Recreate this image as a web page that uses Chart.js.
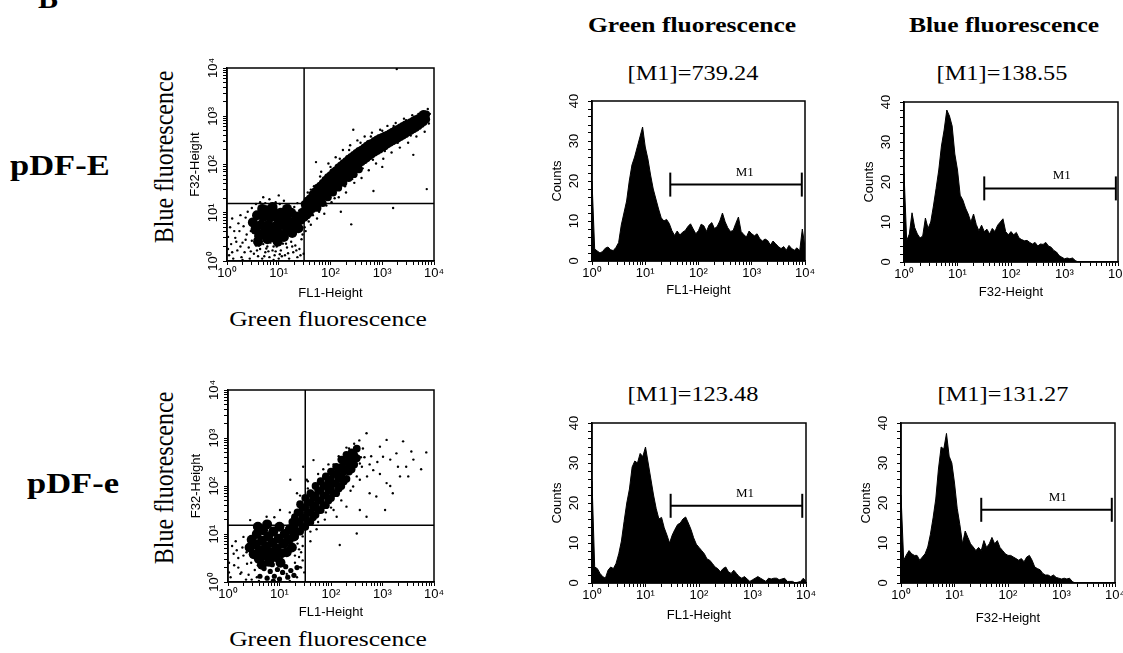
<!DOCTYPE html>
<html>
<head>
<meta charset="utf-8">
<script src="https://cdn.jsdelivr.net/npm/chart.js"></script>
<style>
  body { margin: 0; width: 1123px; height: 653px; overflow: hidden; background: #fff; position: relative; }
  canvas { position: absolute; }
  .lbl { position: absolute; white-space: nowrap; color: #000; line-height: 1; font-family: "Liberation Serif", "Times New Roman", serif; }
  .bold { font-weight: bold; }
  .sx { transform: scaleX(1.15); transform-origin: 0 0; }
  .c { transform: translateX(-50%) scaleX(1.16); }
  .rot { transform: translate(-50%, -50%) rotate(-90deg) scaleY(1.15); }
</style>
</head>
<body>

<div class="lbl bold" style="left:38px;top:-17px;font-size:30px">B</div>
<div class="lbl bold sx" style="left:10px;top:150px;font-size:30px">pDF-E</div>
<div class="lbl bold sx" style="left:27px;top:468px;font-size:30px">pDF-e</div>

<div class="lbl bold c" style="left:692px;top:14px;font-size:22px">Green fluorescence</div>
<div class="lbl bold c" style="left:1004px;top:14px;font-size:22px">Blue fluorescence</div>

<div class="lbl c" style="left:693px;top:63px;font-size:21px">[M1]=739.24</div>
<div class="lbl c" style="left:1002px;top:63px;font-size:21px">[M1]=138.55</div>
<div class="lbl c" style="left:693px;top:384px;font-size:21px">[M1]=123.48</div>
<div class="lbl c" style="left:1003px;top:384px;font-size:21px">[M1]=131.27</div>

<div class="lbl rot" style="left:164px;top:157px;font-size:24px">Blue fluorescence</div>
<div class="lbl rot" style="left:164px;top:478px;font-size:24px">Blue fluorescence</div>
<div class="lbl c" style="left:328px;top:308px;font-size:22px">Green fluorescence</div>
<div class="lbl c" style="left:328px;top:628px;font-size:22px">Green fluorescence</div>

<script>
// ---- data (log10 units on the decade axes) ----
const BIN_STEP = 0.05;   // histogram channel spacing, in decades (0 .. 4)

// counts per channel
const histGreenE = [20, 3, 2.5, 2, 2.4, 3.2, 3.5, 2.8, 2.6, 3.4, 4.6, 9, 12, 15, 20, 24, 26, 28.5, 31, 33.5,
  28.5, 25.5, 21.5, 18, 15.5, 13, 10.8, 10, 10.4, 9.4, 7.6, 6.4, 7.5, 6.5, 7.2, 7.6, 8.6, 9.3, 8, 6.8,
  7.6, 9.2, 8.8, 7.4, 9, 9.6, 8.1, 8.6, 10, 12, 9.8, 8.3, 7.4, 7.6, 9.4, 11, 7.4, 6.6, 6, 7.5,
  6.8, 6.3, 6.8, 5.6, 5, 5.5, 5.1, 4, 5, 4.3, 3.6, 3.1, 3.6, 2.7, 3.9, 3.1, 2.7, 3.3, 2.5, 8, 3.4];
const histBlueE = [22.4, 5.3, 7, 12.3, 8.6, 7, 6, 6.5, 11, 8.4, 10, 14, 18.4, 23, 29, 33, 38, 36.5, 34, 27,
  23, 16.7, 15.5, 13.5, 12, 10, 12, 9.4, 7.8, 9.2, 7.6, 8.2, 7, 8.4, 7.6, 9.2, 10, 10.8, 7.6, 6.8,
  7.6, 6.8, 7.4, 6, 5.6, 5.3, 5.4, 4.9, 4.5, 4.9, 4, 4.5, 4.4, 4.9, 4, 3.7, 2.9, 2.5, 1.6, 1.2,
  0.8, 1, 0.8, 1, 0.4, 0, 0, 0, 0, 0, 0, 0, 0, 0, 0, 0, 0, 0, 0, 0, 0];
const histGreenLow = [25.5, 4, 3.6, 2.4, 1.6, 1.2, 3.2, 4, 3.6, 4.9, 7.3, 10.5, 15.4, 20, 23.5, 29, 30.5, 30, 32.4, 31.6,
  34, 30, 26, 22, 18.6, 16, 16.4, 13.8, 12, 10, 12, 13.4, 14.6, 15, 16, 16.5, 15, 13.4, 11.3, 9.7,
  8.9, 8.1, 7.3, 6, 5.7, 4.9, 4, 3.6, 2.8, 3.6, 4, 2.8, 2.4, 3.2, 2.4, 1.6, 1.2, 1.6, 1, 0.4,
  0.8, 1.2, 1.6, 1.2, 0.8, 0.4, 1.2, 1, 1.2, 1.2, 0.8, 1, 1.2, 0.4, 0.4, 0.4, 0, 0.2, 0.4, 1.2, 0.4];
const histBlueLow = [22, 5.7, 7, 8.1, 7.3, 6.9, 6.9, 5.7, 6.5, 7.3, 9, 12.2, 16.3, 21, 28.5, 34, 33.5, 37.4, 31.7, 30,
  25, 18.7, 14.6, 9.8, 13, 11.4, 9.8, 9, 8.1, 8.9, 8.1, 10.6, 8.9, 9.8, 11.4, 9.8, 10.6, 8.9, 8.1, 7.3,
  6.9, 6.9, 6.5, 6.1, 5.7, 6.1, 5.3, 6.5, 6.9, 5.7, 4, 3.6, 3.3, 2.4, 2, 2, 1.6, 2, 1.4, 1.2,
  1, 1.2, 1, 1.2, 0.4, 0, 0, 0, 0, 0, 0, 0, 0, 0, 0, 0, 0, 0, 0, 0, 0];

// M1 marker: [start, end, count level]
const m1GreenE = [1.47, 3.94, 19.1];
const m1BlueE = [1.50, 3.96, 18.4];
const m1GreenLow = [1.47, 3.93, 19.3];
const m1BlueLow = [1.50, 3.94, 18.3];

// quadrant gates [FL1, F32]
const gateE = [1.49, 1.19];
const gateLow = [1.50, 1.18];

// dot plot pDF-E: dense cluster, diagonal band, scattered events
const dotsE_core = [[0.50,0.80],[0.55,0.65],[0.58,0.95],[0.62,0.52],[0.66,0.75],[0.70,0.92],[0.72,0.60],[0.76,1.05],
  [0.78,0.45],[0.80,0.75],[0.84,0.90],[0.86,0.60],[0.90,1.02],[0.92,0.48],[0.94,0.72],[0.98,0.88],[1.00,0.58],
  [1.04,1.00],[1.06,0.75],[1.10,0.50],[1.12,0.90],[1.16,0.65],[1.20,0.82],[1.24,1.00],[1.26,0.58],[1.30,0.75],
  [1.34,0.92],[1.38,0.68],[1.42,0.85],[0.68,1.08],[0.88,1.12],[1.16,1.08],[0.60,0.40],[0.98,0.40]];
const dotsE_band = [[1.45,0.88],[1.45,1.02],[1.50,0.90],[1.50,1.05],[1.50,1.18],[1.55,0.95],[1.55,1.10],[1.55,1.25],
  [1.60,1.00],[1.60,1.15],[1.60,1.30],[1.65,1.08],[1.65,1.22],[1.65,1.38],[1.70,1.12],[1.70,1.28],[1.70,1.44],
  [1.75,1.10],[1.75,1.22],[1.75,1.36],[1.75,1.52],[1.80,1.25],[1.80,1.40],[1.80,1.56],[1.85,1.20],[1.85,1.33],
  [1.85,1.47],[1.85,1.62],[1.90,1.38],[1.90,1.52],[1.90,1.68],[1.95,1.32],[1.95,1.44],[1.95,1.58],[1.95,1.74],
  [2.00,1.48],[2.00,1.63],[2.00,1.78],[2.05,1.42],[2.05,1.55],[2.05,1.69],[2.05,1.84],[2.10,1.60],[2.10,1.74],
  [2.10,1.88],[2.15,1.52],[2.15,1.65],[2.15,1.79],[2.15,1.94],[2.20,1.70],[2.20,1.84],[2.20,1.98],[2.25,1.62],
  [2.25,1.75],[2.25,1.89],[2.25,2.03],[2.30,1.79],[2.30,1.93],[2.30,2.07],[2.35,1.72],[2.35,1.84],[2.35,1.98],
  [2.35,2.12],[2.40,1.88],[2.40,2.02],[2.40,2.16],[2.45,1.80],[2.45,1.92],[2.45,2.06],[2.45,2.20],[2.50,1.96],
  [2.50,2.10],[2.50,2.24],[2.55,1.90],[2.55,2.01],[2.55,2.14],[2.55,2.28],[2.60,2.05],[2.60,2.18],[2.60,2.31],
  [2.65,2.09],[2.65,2.22],[2.65,2.35],[2.70,2.13],[2.70,2.26],[2.70,2.39],[2.75,2.17],[2.75,2.30],[2.75,2.43],
  [2.80,2.21],[2.80,2.33],[2.80,2.45],[2.85,2.25],[2.85,2.37],[2.85,2.49],[2.90,2.28],[2.90,2.40],[2.90,2.52],
  [2.95,2.31],[2.95,2.43],[2.95,2.55],[3.00,2.35],[3.00,2.46],[3.00,2.57],[3.05,2.38],[3.05,2.49],[3.05,2.60],
  [3.10,2.42],[3.10,2.52],[3.10,2.62],[3.15,2.45],[3.15,2.55],[3.15,2.65],[3.20,2.48],[3.20,2.58],[3.20,2.68],
  [3.25,2.51],[3.25,2.61],[3.25,2.71],[3.30,2.54],[3.30,2.64],[3.30,2.74],[3.35,2.57],[3.35,2.67],[3.35,2.77],
  [3.40,2.60],[3.40,2.70],[3.40,2.80],[3.45,2.63],[3.45,2.73],[3.45,2.83],[3.50,2.67],[3.50,2.76],[3.50,2.85],
  [3.55,2.70],[3.55,2.79],[3.55,2.88],[3.60,2.73],[3.60,2.82],[3.60,2.91],[3.65,2.76],[3.65,2.85],[3.65,2.94],
  [3.70,2.80],[3.70,2.88],[3.70,2.96],[3.75,2.84],[3.75,2.92],[3.75,3.00],[3.80,2.88],[3.80,2.96],[3.80,3.05],
  [3.85,2.94],[3.85,3.04]];
const dotsE_sparse = [[0.04,0.12],[0.08,0.35],[0.12,0.05],[0.16,0.48],[0.20,0.22],[0.24,0.62],[0.28,0.08],[0.30,0.38],
  [0.34,0.18],[0.38,0.55],[0.42,0.28],[0.44,0.05],[0.48,0.42],[0.52,0.15],[0.56,0.32],[0.60,0.10],[0.64,0.25],
  [0.68,0.05],[0.70,0.35],[0.74,0.18],[0.78,0.30],[0.82,0.08],[0.84,0.38],[0.88,0.22],[0.92,0.12],[0.96,0.30],
  [1.00,0.05],[1.04,0.22],[1.08,0.36],[1.12,0.12],[1.16,0.28],[1.20,0.05],[1.24,0.40],[1.28,0.18],[1.32,0.32],
  [1.36,0.08],[1.40,0.25],[1.44,0.45],[1.48,0.15],[0.06,0.70],[0.10,0.88],[0.14,0.62],[0.22,0.78],[0.26,0.95],
  [0.32,0.72],[0.36,0.90],[0.40,1.02],[0.46,0.62],[0.48,1.10],[0.56,1.18],[0.64,1.22],[0.74,1.20],[0.82,1.28],
  [0.94,1.22],[1.02,1.18],[1.10,1.25],[1.20,1.15],[1.30,1.12],[1.36,1.20],[1.46,1.12],[1.00,1.36],[0.70,1.32],
  [1.50,0.70],[1.56,1.42],[1.62,0.75],[1.68,1.55],[1.74,0.88],[1.82,1.85],[1.88,0.98],[1.96,2.02],[2.02,1.22],
  [2.10,2.15],[2.16,1.32],[2.24,2.30],[2.30,1.42],[2.38,2.40],[2.46,1.62],[2.52,2.50],[2.60,1.72],[2.66,2.58],
  [2.74,1.88],[2.80,2.66],[2.88,2.02],[2.96,2.72],[3.02,2.12],[3.10,2.80],[3.18,2.25],[3.26,2.86],[3.34,2.35],
  [3.42,2.95],[3.50,2.45],[3.58,3.02],[3.66,2.58],[3.74,3.08],[3.82,2.68],[3.88,3.15],[3.92,3.05],[3.90,2.85],
  [2.44,2.72],[2.40,0.76],[3.21,1.10],[3.86,1.49],[2.83,1.45],[3.28,3.98],[2.20,1.02],[1.72,2.05],[3.00,1.95],
  [3.60,2.20],[0.02,0.50],[0.02,0.25],[0.30,0.02],[0.90,0.02],
  [0.10,0.18],[0.18,0.40],[0.26,0.30],[0.36,0.44],[0.46,0.20],[0.54,0.45],[0.58,0.22],[0.66,0.40],[0.72,0.10],
  [0.80,0.20],[0.86,0.46],[0.94,0.20],[0.98,0.48],[1.06,0.10],[1.10,0.44],[1.18,0.16],[1.26,0.30],[1.34,0.22],
  [1.42,0.12],[0.62,0.32],[0.90,0.30],[1.14,0.36],[0.76,0.26],[1.02,0.14],[1.46,0.55],[1.52,0.62],[1.40,1.05],
  [1.58,0.82],[1.66,0.95],[1.78,1.02],[1.92,1.15],[2.08,1.30],[2.28,1.55],[2.42,1.70],[2.62,1.92],[2.82,2.10],
  [3.05,2.28],[3.30,2.45],[3.55,2.60],[1.62,1.48],[1.80,1.75],[2.00,1.95],[2.18,2.12],[2.36,2.30],[2.58,2.45],
  [2.78,2.58],[3.00,2.70],[3.22,2.80],[3.46,2.92],[3.70,3.05]];

// dot plot pDF-e
const dotsLow_core = [[0.42,0.72],[0.46,0.88],[0.50,0.58],[0.54,0.78],[0.56,1.00],[0.60,0.48],[0.62,0.66],[0.66,0.86],
  [0.68,1.08],[0.72,0.55],[0.74,0.74],[0.78,0.95],[0.80,0.42],[0.82,0.62],[0.86,0.82],[0.88,1.05],[0.92,0.52],
  [0.94,0.70],[0.98,0.90],[1.00,1.15],[1.02,0.40],[1.04,0.60],[1.08,0.80],[1.10,1.00],[1.14,0.62],[1.18,0.88],
  [1.20,1.10],[1.24,0.72],[1.28,0.95],[0.58,1.15],[0.76,1.20],[0.66,0.36]];
const dotsLow_band = [[1.25,1.05],[1.25,1.25],[1.30,0.95],[1.30,1.15],[1.30,1.35],[1.35,1.05],[1.35,1.25],[1.35,1.45],
  [1.40,1.05],[1.40,1.25],[1.40,1.45],[1.40,1.62],[1.45,1.15],[1.45,1.35],[1.45,1.55],[1.50,1.15],[1.50,1.35],
  [1.50,1.55],[1.50,1.75],[1.55,1.25],[1.55,1.45],[1.55,1.65],[1.60,1.25],[1.60,1.45],[1.60,1.65],[1.60,1.85],
  [1.65,1.35],[1.65,1.55],[1.65,1.75],[1.70,1.40],[1.70,1.60],[1.70,1.80],[1.70,2.00],[1.75,1.50],[1.75,1.70],
  [1.75,1.90],[1.80,1.50],[1.80,1.70],[1.80,1.90],[1.80,2.10],[1.85,1.60],[1.85,1.80],[1.85,2.00],[1.90,1.60],
  [1.90,1.80],[1.90,2.00],[1.90,2.20],[1.95,1.70],[1.95,1.90],[1.95,2.10],[2.00,1.75],[2.00,1.95],[2.00,2.15],
  [2.00,2.30],[2.05,1.85],[2.05,2.05],[2.05,2.25],[2.10,1.85],[2.10,2.05],[2.10,2.25],[2.10,2.40],[2.15,1.95],
  [2.15,2.15],[2.15,2.35],[2.20,2.00],[2.20,2.20],[2.20,2.40],[2.20,2.55],[2.25,2.10],[2.25,2.30],[2.25,2.50],
  [2.30,2.15],[2.30,2.35],[2.30,2.50],[2.30,2.65],[2.35,2.30],[2.35,2.45],[2.35,2.62],[2.40,2.35],[2.40,2.52],
  [2.40,2.70],[2.45,2.45],[2.45,2.65],[2.50,2.58],[2.50,2.78]];
const dotsLow_floor = [[0.62,0.12],[0.70,0.28],[0.76,0.08],[0.82,0.22],[0.86,0.36],[0.90,0.12],[0.96,0.26],[1.00,0.06],
  [1.06,0.20],[1.12,0.32],[1.16,0.10],[1.22,0.24],[1.28,0.14],[1.34,0.30],[0.88,0.02],[1.04,0.44]];
const dotsLow_sparse = [[2.69,3.10],[3.08,2.96],[3.40,2.93],[3.56,2.72],[3.85,2.70],[3.30,2.40],[3.08,2.06],[2.75,1.85],
  [2.56,1.50],[3.34,2.20],[3.01,2.61],[2.82,2.33],[2.56,2.47],[2.69,1.36],[2.50,1.01],[2.17,0.77],[2.11,1.36],
  [2.95,2.82],[3.46,2.40],[2.56,2.13],[2.88,1.78],[3.05,1.50],[3.27,2.68],[2.43,1.99],[2.30,1.57],[2.17,2.33],
  [1.92,1.85],[1.79,1.50],[1.66,2.54],[1.53,2.13],[1.34,1.85],[1.21,2.13],[1.46,2.40],[0.11,0.59],[0.24,0.17],
  [0.37,0.38],[0.05,0.10],[0.17,0.66],[0.30,0.94],[0.50,1.01],[0.43,1.29],[0.75,1.36],[1.01,1.50],[1.34,0.10],
  [1.40,0.31],[0.56,0.10],[1.14,0.17],[2.62,2.78],[2.58,2.60],[2.45,2.88],[2.35,2.78],[2.28,2.05],[2.00,1.55],
  [1.90,1.45],[1.75,1.25],[1.60,1.05],[1.45,0.95],[1.35,0.80],[1.30,0.55],[1.42,0.62],[2.70,2.20],[2.90,2.50],
  [3.15,2.55],[2.78,2.62],[3.60,2.55],[3.20,1.85],[3.75,2.35],[2.05,2.45],[1.85,2.35],[1.55,1.95],[1.20,1.45],
  [0.90,1.35],[0.20,0.30],[0.30,0.55],[0.40,0.15],[0.15,0.85],[0.35,0.05],[0.02,0.40],[0.02,0.20],[0.60,0.02],
  [1.20,0.02],[1.45,0.45],[1.38,0.68],[1.48,0.20],
  [0.20,0.50],[0.28,0.72],[0.36,0.62],[0.45,0.40],[0.52,0.25],[0.58,0.35],[1.30,0.40],[1.38,0.52],[1.45,0.75],
  [1.42,0.30],[0.26,0.20],[0.46,0.05],[0.12,0.35],[0.08,0.75],[1.60,0.85],[1.72,1.10],[1.88,1.30],[2.05,1.50],
  [2.20,1.70],[2.38,1.90],[2.50,2.20],[2.60,2.40],[1.40,1.80],[1.55,2.10],[1.75,2.25],[1.95,2.45],[2.15,2.62],
  [2.30,2.80],[2.55,2.95],[2.65,2.60],[2.75,2.45],[2.95,2.25],[3.15,2.00],[3.50,2.20]];

// ---- axis helpers ----
const SUP = ['\u2070', '\u00b9', '\u00b2', '\u00b3', '\u2074'];
const DECADE_TICKS = [];
for (let d = 0; d < 4; d++) for (let k = 1; k < 10; k++) DECADE_TICKS.push(d + Math.log10(k));
DECADE_TICKS.push(4);
const COUNT_TICKS = [];
for (let c = 0; c <= 40; c += 2) COUNT_TICKS.push(c);

Chart.defaults.font.family = '"Liberation Sans", Arial, sans-serif';
Chart.defaults.color = '#000';

const M = {l: 52, t: 10, r: 14, b: 42};   // canvas margin around each plot box
const TICK_FONT = {size: 13};
const TITLE_FONT = {size: 13};

const LAYOUT = {
  scatE:   {L: 227, T: 68,  R: 434,  B: 261, xGap: 32, yPad: 13, tickPad: 0},
  scatLow: {L: 228, T: 390, R: 434,  B: 582, xGap: 30, yPad: 13, tickPad: 0},
  histEG:  {L: 592, T: 97,  R: 805,  B: 261, xGap: 29, yPad: 10, tickPad: 6, m1x: 2.87},
  histEB:  {L: 904, T: 98,  R: 1118, B: 262, xGap: 30, yPad: 10, tickPad: 6, m1x: 2.95},
  histLG:  {L: 592, T: 419, R: 806,  B: 583, xGap: 32, yPad: 10, tickPad: 6, m1x: 2.86},
  histLB:  {L: 901, T: 419, R: 1115, B: 583, xGap: 35, yPad: 10, tickPad: 6, m1x: 2.93}
};

function makeCanvas(lay) {
  const c = document.createElement('canvas');
  c.width = lay.R - lay.L + M.l + M.r;
  c.height = lay.B - lay.T + M.t + M.b;
  c.style.left = (lay.L - M.l) + 'px';
  c.style.top = (lay.T - M.t) + 'px';
  document.body.appendChild(c);
  return c;
}

function baseAxis(isY, title, lay) {
  return {
    type: 'linear',
    afterFit: s => { if (isY) s.width = M.l; else s.height = M.b; },
    grid: {drawOnChartArea: false, tickLength: 4, color: '#000', lineWidth: 1},
    border: {display: true, color: '#000', width: 1.5},
    title: {
      display: true, text: title, font: TITLE_FONT,
      padding: isY ? {top: lay.yPad, bottom: 0} : {top: 0, bottom: M.b - lay.xGap - 7.8}
    },
    ticks: {
      autoSkip: false, font: TICK_FONT,
      padding: isY ? lay.tickPad : 1,
      minRotation: isY ? 90 : 0, maxRotation: isY ? 90 : 0,
      crossAlign: isY ? 'center' : 'near'
    }
  };
}

function decadeAxis(isY, title, lay) {
  const a = baseAxis(isY, title, lay);
  a.min = 0; a.max = 4;
  a.afterBuildTicks = s => { s.ticks = DECADE_TICKS.map(v => ({value: v})); };
  a.ticks.callback = v => Number.isInteger(v) ? '10' + SUP[v] : '';
  return a;
}

function countAxis(lay) {
  const a = baseAxis(true, 'Counts', lay);
  a.min = 0; a.max = 40;
  a.afterBuildTicks = s => { s.ticks = COUNT_TICKS.map(v => ({value: v})); };
  a.ticks.callback = v => v % 10 === 0 ? String(v) : '';
  return a;
}

// box round the plot area + the "M1" text over the marker
const framePlugin = {
  id: 'frame',
  afterDatasetsDraw(chart, args, opts) {
    const {ctx, chartArea: a} = chart;
    ctx.save();
    ctx.strokeStyle = '#000';
    ctx.lineWidth = 1.5;
    ctx.strokeRect(a.left, a.top, a.right - a.left, a.bottom - a.top);
    if (opts.m1) {
      const {x, y} = chart.scales;
      ctx.font = '13px "Liberation Serif", serif';
      ctx.fillStyle = '#000';
      ctx.textAlign = 'center';
      ctx.textBaseline = 'bottom';
      ctx.fillText('M1', x.getPixelForValue(opts.m1.x), y.getPixelForValue(opts.m1.level) - 6);
    }
    ctx.restore();
  }
};

function commonOptions(scales, frameOpts) {
  return {
    responsive: false,
    animation: false,
    events: [],
    devicePixelRatio: 1,
    layout: {padding: {left: 0, top: M.t, right: M.r, bottom: 0}},
    plugins: {legend: {display: false}, tooltip: {enabled: false}, frame: frameOpts},
    scales: scales
  };
}

function dots(list, r) {
  return {
    data: list.map(p => ({x: p[0], y: p[1]})),
    pointRadius: r, pointBackgroundColor: '#000', pointBorderWidth: 0, showLine: false
  };
}

function gateLine(points) {
  return {
    data: points.map(p => ({x: p[0], y: p[1]})),
    showLine: true, borderColor: '#000', borderWidth: 1.5, pointRadius: 0
  };
}

function dotPlot(lay, core, band, extra, sparse, gate) {
  const sets = [dots(core, 5), dots(band, 3.9)];
  if (extra) sets.push(dots(extra, 2.6));
  sets.push(dots(sparse, 1.2));
  sets.push(gateLine([[gate[0], 0], [gate[0], 4]]));
  sets.push(gateLine([[0, gate[1]], [4, gate[1]]]));
  new Chart(makeCanvas(lay), {
    type: 'scatter',
    data: {datasets: sets},
    options: commonOptions({
      x: decadeAxis(false, 'FL1-Height', lay),
      y: decadeAxis(true, 'F32-Height', lay)
    }, {}),
    plugins: [framePlugin]
  });
}

function histogram(lay, counts, m1, xTitle) {
  new Chart(makeCanvas(lay), {
    type: 'line',
    data: {
      datasets: [{
        data: counts.map((c, i) => ({x: i * BIN_STEP, y: c})),
        fill: 'origin', backgroundColor: '#000', borderColor: '#000', borderWidth: 1, pointRadius: 0
      }, {
        data: [{x: m1[0], y: m1[2]}, {x: m1[1], y: m1[2]}],
        fill: false, borderColor: '#000', borderWidth: 2,
        pointStyle: 'line', pointRadius: 12, pointRotation: 90,
        pointBorderColor: '#000', pointBorderWidth: 2
      }]
    },
    options: commonOptions({
      x: decadeAxis(false, xTitle, lay),
      y: countAxis(lay)
    }, {m1: {x: lay.m1x, level: m1[2]}}),
    plugins: [framePlugin]
  });
}

dotPlot(LAYOUT.scatE, dotsE_core, dotsE_band, null, dotsE_sparse, gateE);
dotPlot(LAYOUT.scatLow, dotsLow_core, dotsLow_band, dotsLow_floor, dotsLow_sparse, gateLow);
histogram(LAYOUT.histEG, histGreenE, m1GreenE, 'FL1-Height');
histogram(LAYOUT.histEB, histBlueE, m1BlueE, 'F32-Height');
histogram(LAYOUT.histLG, histGreenLow, m1GreenLow, 'FL1-Height');
histogram(LAYOUT.histLB, histBlueLow, m1BlueLow, 'F32-Height');
</script>
</body>
</html>
